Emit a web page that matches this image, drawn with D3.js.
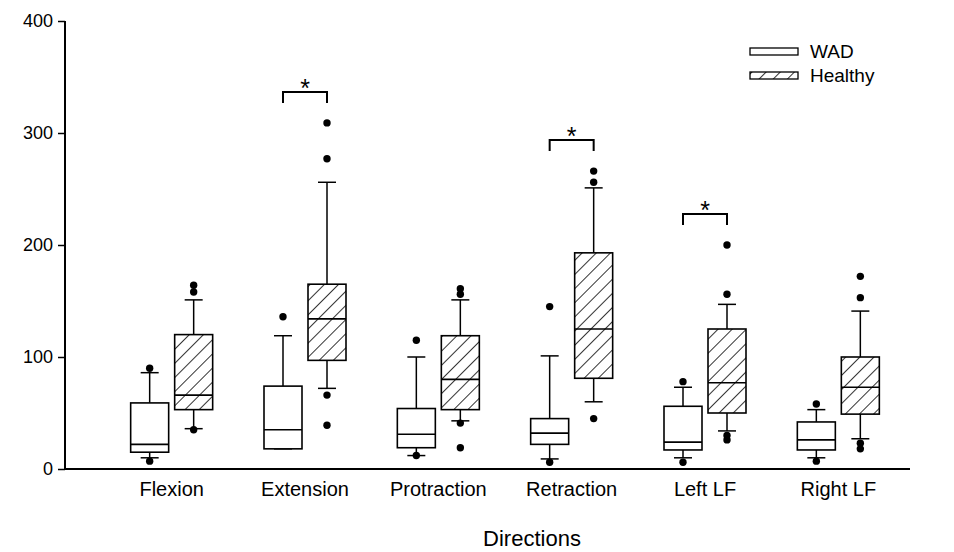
<!DOCTYPE html>
<html>
<head>
<meta charset="utf-8">
<script src="https://cdn.jsdelivr.net/npm/d3@7"></script>
<style>
  body { margin: 0; background: #fff; }
  text { font-family: "Liberation Sans", Arial, sans-serif; fill: #000; }
</style>
</head>
<body>
<script>
// directions along the x axis
const directions = ["Flexion", "Extension", "Protraction", "Retraction", "Left LF", "Right LF"];
const groups = ["WAD", "Healthy"];

// box stats per direction: [lowWhisker, q1, median, q3, highWhisker]
const wadStats = [
  [10, 15, 22, 59, 86],
  [18, 18, 35, 74, 119],
  [12, 19, 31, 54, 100],
  [9, 22, 32, 45, 101],
  [10, 17, 24, 56, 73],
  [10, 17, 26, 42, 53]
];
const healthyStats = [
  [36, 53, 66, 120, 151],
  [72, 97, 134, 165, 256],
  [43, 53, 80, 119, 151],
  [60, 81, 125, 193, 251],
  [34, 50, 77, 125, 147],
  [27, 49, 73, 100, 141]
];

// outliers per direction
const wadOutliers = [
  [7, 90],
  [136],
  [12, 115],
  [6, 145],
  [6, 78],
  [7, 58]
];
const healthyOutliers = [
  [35, 158, 164],
  [39, 66, 277, 309],
  [19, 41, 156, 161],
  [45, 256, 266],
  [26, 30, 156, 200],
  [18, 23, 153, 172]
];

// directions with a significant difference
const starred = ["Extension", "Retraction", "Left LF"];

const yTicks = [0, 100, 200, 300, 400];

const w = 954, h = 552;
const svg = d3.select("body").append("svg")
  .attr("width", w)
  .attr("height", h);

const defs = svg.append("defs");
defs.append("pattern")
  .attr("id", "hatch")
  .attr("patternUnits", "userSpaceOnUse")
  .attr("width", 10)
  .attr("height", 10)
  .attr("patternTransform", "rotate(45)")
  .append("line")
  .attr("x1", 0).attr("y1", 0)
  .attr("x2", 0).attr("y2", 10)
  .attr("stroke", "#000")
  .attr("stroke-width", 1.6);

const y = d3.scaleLinear().domain([0, 400]).range([469, 21]);
const x = d3.scaleBand().domain(directions).range([105, 905]);
const sub = d3.scaleOrdinal().domain(groups).range([-22, 22]);

const boxW = 38, capW = 18;

// y axis
const yAxis = svg.append("g")
  .attr("transform", "translate(65,0)")
  .call(d3.axisLeft(y).tickValues(yTicks).tickSize(7).tickPadding(5));
yAxis.select(".domain").attr("stroke-width", 2).attr("d", "M0," + y(400) + "V" + y(0));
yAxis.selectAll(".tick line").attr("stroke-width", 1.5);
yAxis.selectAll(".tick text").attr("font-size", 18).attr("font-family", "Liberation Sans, Arial, sans-serif");

// x axis
const xAxis = svg.append("g")
  .attr("transform", "translate(0," + y(0) + ")")
  .call(d3.axisBottom(x).tickSize(0).tickPadding(13));
xAxis.select(".domain").attr("stroke-width", 2).attr("d", "M65,0H910");
xAxis.selectAll(".tick text").attr("font-size", 20).attr("font-family", "Liberation Sans, Arial, sans-serif");

svg.append("text")
  .attr("x", 532)
  .attr("y", 546)
  .attr("text-anchor", "middle")
  .attr("font-size", 22)
  .text("Directions");

// draw boxes
function drawBoxes(stats, outliers, group, fill) {
  const g = svg.append("g");
  stats.forEach(function(s, i) {
    const cx = x(directions[i]) + x.bandwidth() / 2 + sub(group);
    const bg = g.append("g");
    // whiskers
    bg.append("line")
      .attr("x1", cx).attr("x2", cx)
      .attr("y1", y(s[3])).attr("y2", y(s[4]))
      .attr("stroke", "#000").attr("stroke-width", 1.5);
    bg.append("line")
      .attr("x1", cx).attr("x2", cx)
      .attr("y1", y(s[1])).attr("y2", y(s[0]))
      .attr("stroke", "#000").attr("stroke-width", 1.5);
    [s[0], s[4]].forEach(function(v) {
      bg.append("line")
        .attr("x1", cx - capW / 2).attr("x2", cx + capW / 2)
        .attr("y1", y(v)).attr("y2", y(v))
        .attr("stroke", "#000").attr("stroke-width", 1.5);
    });
    // box
    bg.append("rect")
      .attr("x", cx - boxW / 2)
      .attr("y", y(s[3]))
      .attr("width", boxW)
      .attr("height", y(s[1]) - y(s[3]))
      .attr("fill", fill)
      .attr("stroke", "#000")
      .attr("stroke-width", 1.6);
    // median
    bg.append("line")
      .attr("x1", cx - boxW / 2).attr("x2", cx + boxW / 2)
      .attr("y1", y(s[2])).attr("y2", y(s[2]))
      .attr("stroke", "#000").attr("stroke-width", 1.6);
    // outliers
    bg.selectAll("circle")
      .data(outliers[i])
      .enter()
      .append("circle")
      .attr("cx", cx)
      .attr("cy", function(d) { return y(d); })
      .attr("r", 3.7)
      .attr("fill", "#000");
  });
}

drawBoxes(wadStats, wadOutliers, "WAD", "#fff");
drawBoxes(healthyStats, healthyOutliers, "Healthy", "url(#hatch)");

// significance brackets
starred.forEach(function(d) {
  const i = directions.indexOf(d);
  const top = Math.max(d3.max(healthyOutliers[i]), healthyStats[i][4]);
  const by = y(top) - 31;
  const x1 = x(d) + x.bandwidth() / 2 + sub("WAD");
  const x2 = x(d) + x.bandwidth() / 2 + sub("Healthy");
  svg.append("path")
    .attr("d", "M" + x1 + "," + (by + 11) + "V" + by + "H" + x2 + "V" + (by + 11))
    .attr("fill", "none")
    .attr("stroke", "#000")
    .attr("stroke-width", 2);
  svg.append("text")
    .attr("x", (x1 + x2) / 2)
    .attr("y", by + 5)
    .attr("text-anchor", "middle")
    .attr("font-size", 25)
    .text("*");
});

// legend
const legend = svg.append("g").attr("transform", "translate(750,45)");
groups.forEach(function(gname, i) {
  legend.append("rect")
    .attr("x", 0)
    .attr("y", 3 + i * 24)
    .attr("width", 48)
    .attr("height", 7)
    .attr("fill", gname === "WAD" ? "#fff" : "url(#hatch)")
    .attr("stroke", "#000")
    .attr("stroke-width", 1.3);
  legend.append("text")
    .attr("x", 60)
    .attr("y", 13 + i * 24)
    .attr("font-size", 19)
    .text(gname);
});
</script>
</body>
</html>
